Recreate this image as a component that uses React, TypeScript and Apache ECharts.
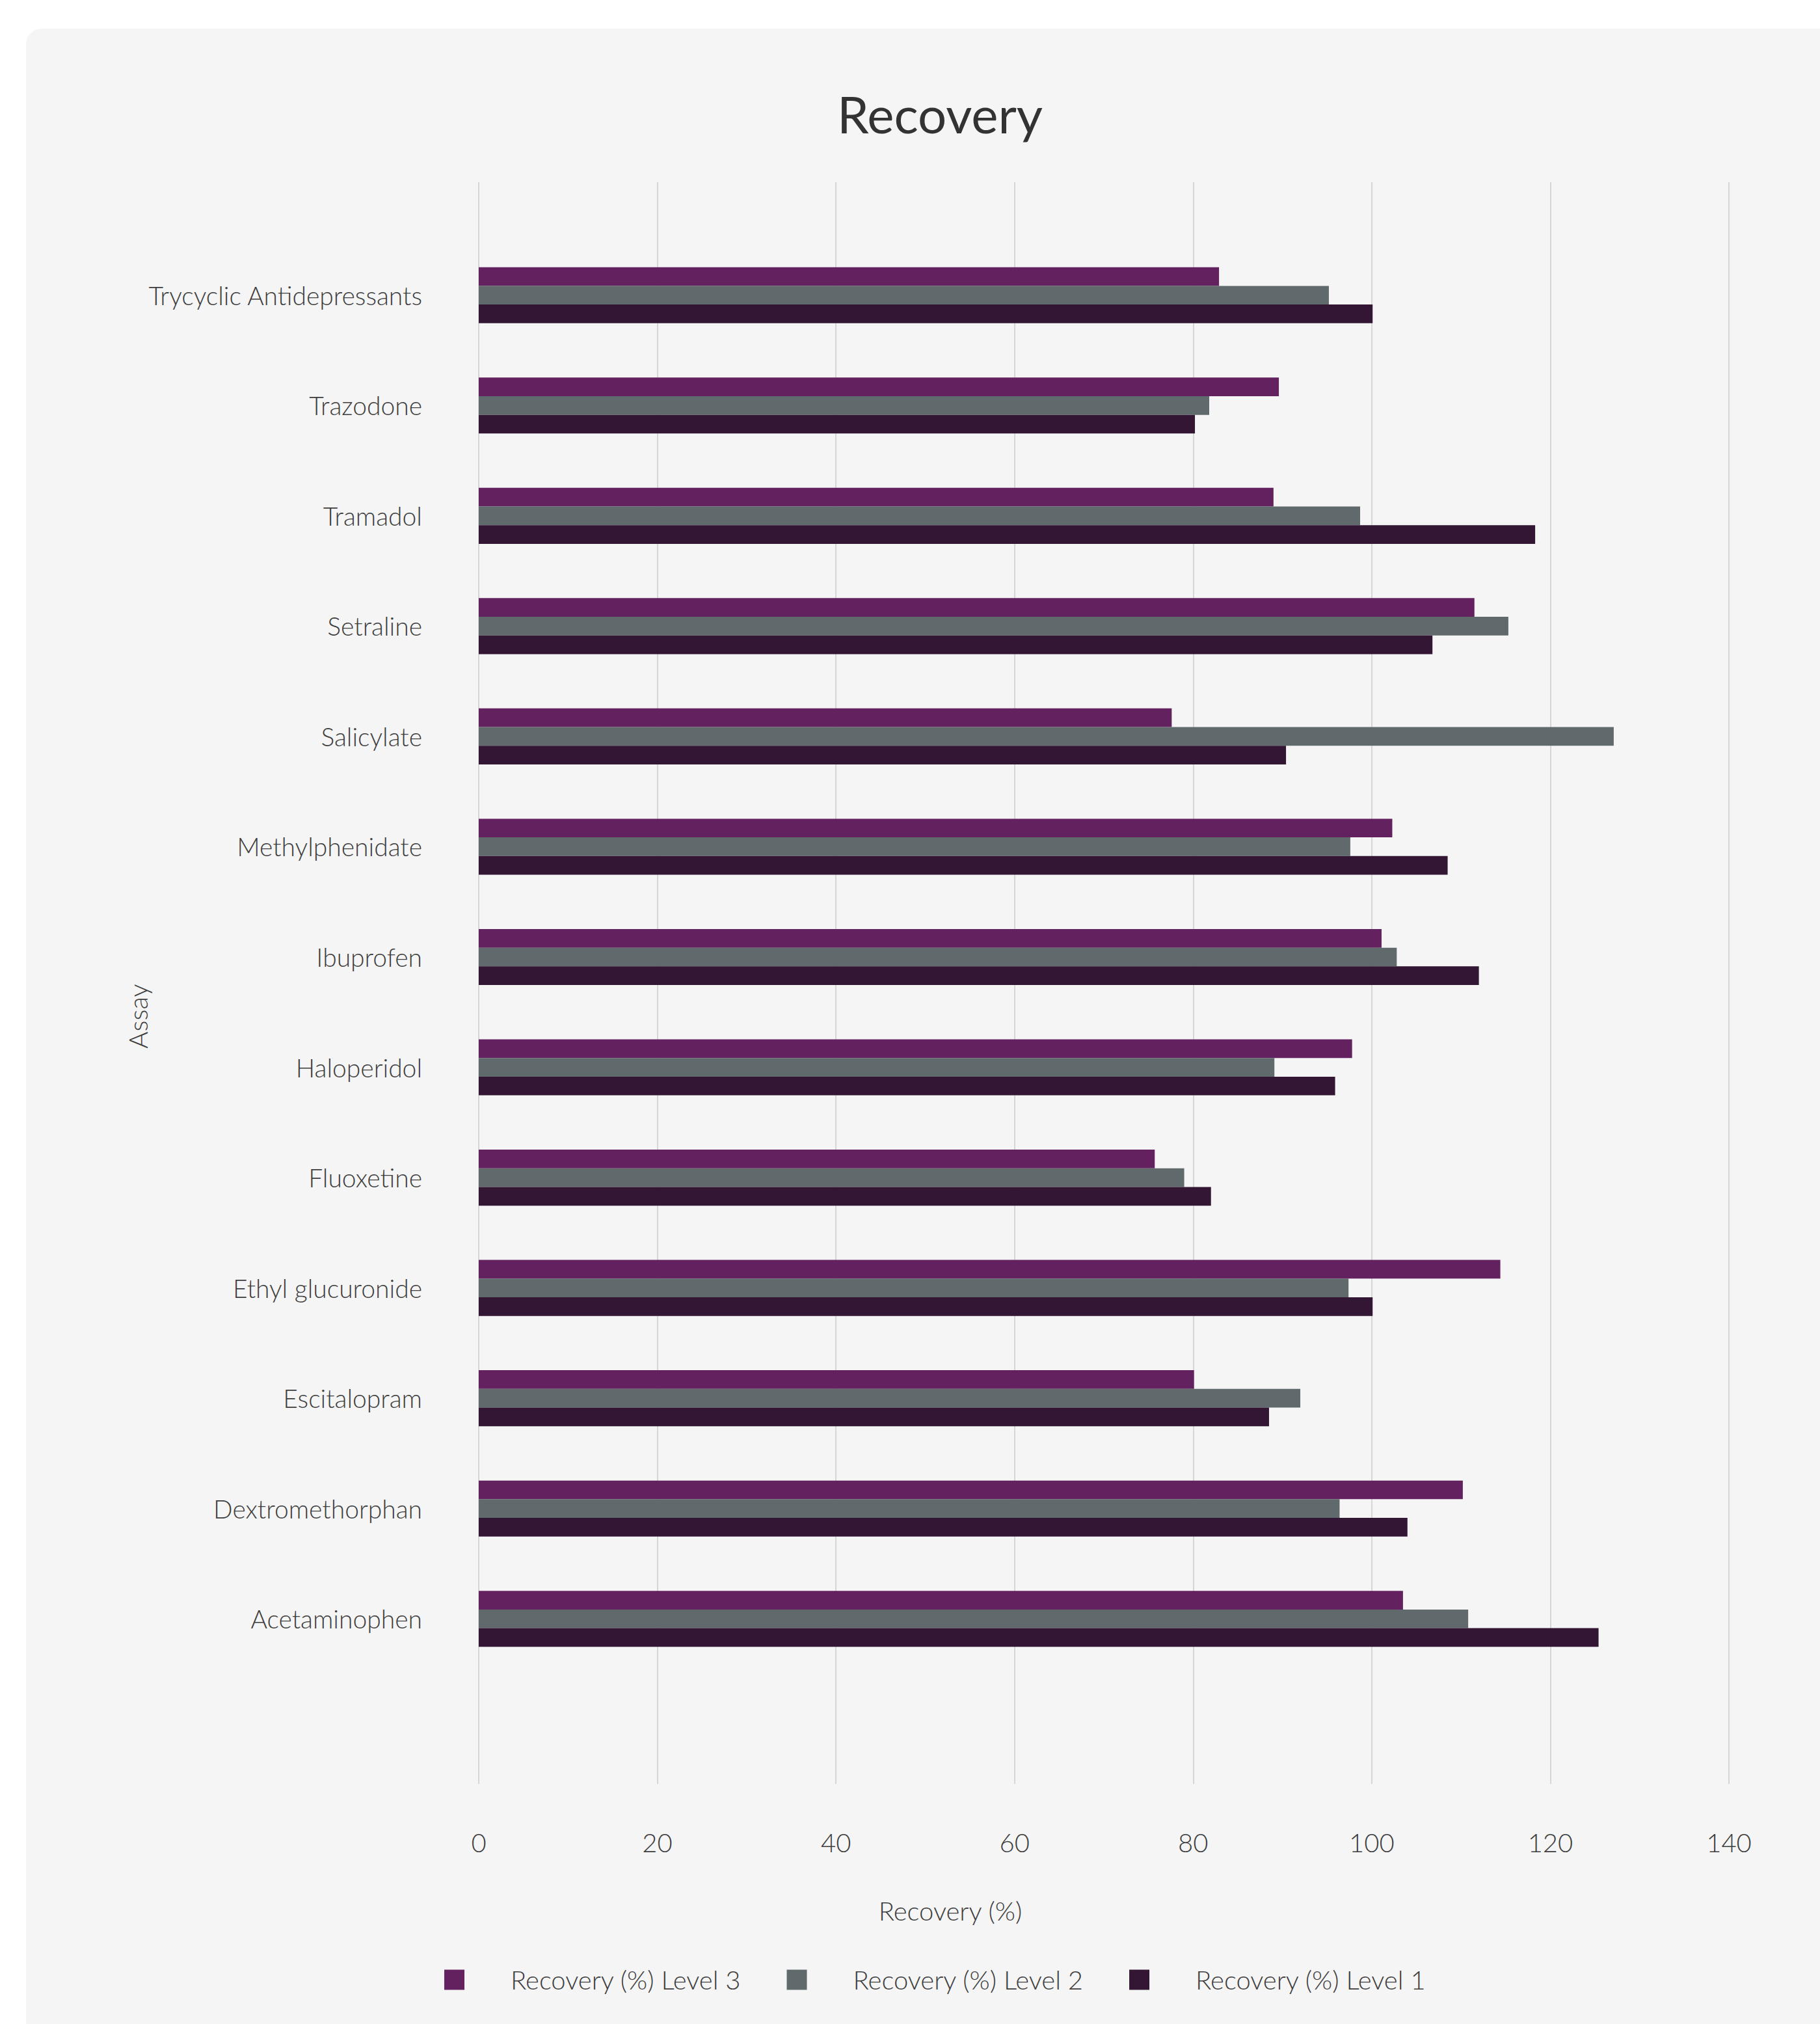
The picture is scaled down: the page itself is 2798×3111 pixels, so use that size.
import React, { useEffect, useRef } from "react";
import * as echarts from "echarts";

const categories = [
  "Acetaminophen",
  "Dextromethorphan",
  "Escitalopram",
  "Ethyl glucuronide",
  "Fluoxetine",
  "Haloperidol",
  "Ibuprofen",
  "Methylphenidate",
  "Salicylate",
  "Setraline",
  "Tramadol",
  "Trazodone",
  "Trycyclic Antidepressants",
];

const level3 = [103.5, 110.2, 80.1, 114.4, 75.7, 97.8, 101.1, 102.3, 77.6, 111.5, 89.0, 89.6, 82.9];
const level2 = [110.8, 96.4, 92.0, 97.4, 79.0, 89.1, 102.8, 97.6, 127.1, 115.3, 98.7, 81.8, 95.2];
const level1 = [125.4, 104.0, 88.5, 100.1, 82.0, 95.9, 112.0, 108.5, 90.4, 106.8, 118.3, 80.2, 100.1];

const seriesNames = ["Recovery (%) Level 3", "Recovery (%) Level 2", "Recovery (%) Level 1"];
const seriesColors = ["#63225F", "#606A6C", "#331634"];

const FONT = "Lato, 'Open Sans', sans-serif";
const TEXT = "#3d3d3d";

export default function App() {
  const ref = useRef<HTMLDivElement>(null);

  useEffect(() => {
    document.body.style.margin = "0";
    document.body.style.overflow = "hidden";
    if (!ref.current) return;
    const chart = echarts.init(ref.current, undefined, { renderer: "svg" });
    const values = [level3, level2, level1];
    chart.setOption({
      animation: false,
      backgroundColor: "#ffffff",
      textStyle: { fontFamily: FONT },
      title: {
        text: "Recovery",
        left: 1440,
        textAlign: "center",
        top: 131,
        textStyle: { fontSize: 78, fontWeight: "normal", color: "#333333", fontFamily: FONT },
      },
      legend: {
        data: seriesNames,
        left: 678,
        top: 3018,
        itemWidth: 31,
        itemHeight: 31,
        itemGap: 70,
        icon: "rect",
        textStyle: {
          fontSize: 40,
          fontWeight: 300,
          color: TEXT,
          fontFamily: FONT,
          padding: [0, 0, 0, 66],
        },
      },
      graphic: [
        {
          type: "rect",
          z: -10,
          silent: true,
          shape: { x: 40, y: 44, width: 2900, height: 3200, r: 24 },
          style: { fill: "#f5f5f5" },
        },
        {
          type: "text",
          x: 1461,
          y: 2937,
          style: {
            text: "Recovery (%)",
            fontSize: 40,
            fontWeight: 300,
            fontFamily: FONT,
            fill: TEXT,
            align: "center",
            verticalAlign: "middle",
          },
        },
        {
          type: "text",
          x: 212,
          y: 1562,
          rotation: Math.PI / 2,
          style: {
            text: "Assay",
            fontSize: 40,
            fontWeight: 300,
            fontFamily: FONT,
            fill: TEXT,
            align: "center",
            verticalAlign: "middle",
          },
        },
      ],
      grid: [
        { left: 736, width: 1922, top: 369, height: 2204, containLabel: false },
        { left: 736, width: 1922, top: 280, height: 2462, containLabel: false },
      ],
      xAxis: [
        {
          type: "value",
          gridIndex: 0,
          min: 0,
          max: 140,
          interval: 20,
          axisLabel: { show: false },
          axisLine: { show: false },
          axisTick: { show: false },
          splitLine: { show: false },
        },
        {
          type: "value",
          gridIndex: 1,
          min: 0,
          max: 140,
          interval: 20,
          axisLine: { show: false },
          axisTick: { show: false },
          splitLine: { show: true, lineStyle: { color: "#d6d6d6", width: 2 } },
          axisLabel: {
            margin: 70,
            fontSize: 40,
            fontWeight: 300,
            color: TEXT,
            fontFamily: FONT,
          },
        },
      ],
      yAxis: [
        {
          type: "category",
          gridIndex: 0,
          data: categories,
          axisLine: { show: false },
          axisTick: { show: false },
          splitLine: { show: false },
          axisLabel: {
            margin: 87,
            fontSize: 39,
            fontWeight: 300,
            color: TEXT,
            fontFamily: FONT,
          },
        },
        {
          type: "value",
          gridIndex: 1,
          show: false,
          min: 0,
          max: 1,
          splitLine: { show: false },
        },
      ],
      series: seriesNames.map((name, i) => ({
        name,
        type: "bar",
        xAxisIndex: 0,
        yAxisIndex: 0,
        data: values[i],
        barWidth: 28.7,
        barGap: "0%",
        itemStyle: { color: seriesColors[i] },
        z: 5,
      })),
    });
    return () => chart.dispose();
  }, []);

  return <div ref={ref} style={{ width: 2798, height: 3111 }} />;
}
